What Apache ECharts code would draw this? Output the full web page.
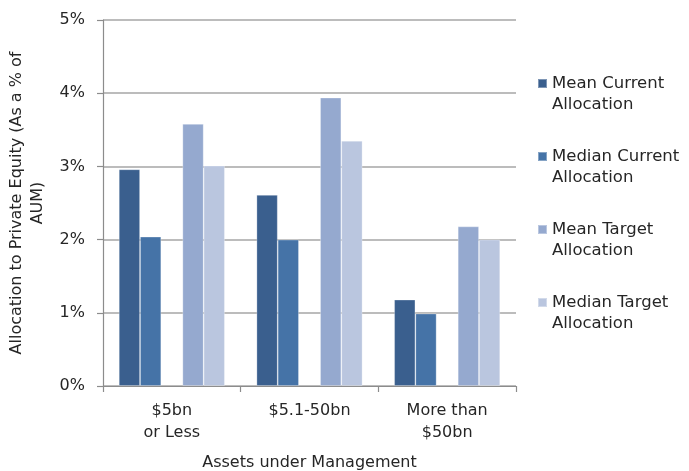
<!DOCTYPE html>
<html>
<head>
<meta charset="utf-8">
<script src="https://cdn.jsdelivr.net/npm/echarts@6/dist/echarts.min.js"></script>
<style>
html,body{margin:0;padding:0;background:#fff;}
#chart{width:689px;height:471px;}
</style>
</head>
<body>
<div id="chart"></div>
<script>
var categories = ['$5bn\nor Less', '$5.1-50bn', 'More than\n$50bn'];
var seriesNames = ['Mean Current\nAllocation', 'Median Current\nAllocation', 'Mean Target\nAllocation', 'Median Target\nAllocation'];
var meanCurrent = [2.96, 2.61, 1.18];
var medianCurrent = [2.04, 2.00, 0.99];
var meanTarget = [3.58, 3.94, 2.18];
var medianTarget = [3.01, 3.35, 2.00];
var yTicks = [0, 1, 2, 3, 4, 5];
var colors = ['#3A5F8E', '#4573A7', '#95A9CF', '#BAC6DF'];

var FONT = 'DejaVu Sans';
var chart = echarts.init(document.getElementById('chart'), null, {renderer: 'canvas'});

function barSeries(name, data, color) {
  return {
    name: name,
    type: 'bar',
    data: data,
    barGap: 0,
    barCategoryGap: '23%',
    itemStyle: {color: color, borderColor: 'rgba(255,255,255,0.35)', borderWidth: 0.8},
    emphasis: {disabled: true}
  };
}

var option = {
  animation: false,
  backgroundColor: '#ffffff',
  textStyle: {fontFamily: FONT},
  grid: {left: 103, right: 173, top: 20, bottom: 85, containLabel: false, outerBoundsMode: 'none'},
  legend: {
    orient: 'vertical',
    left: 537,
    top: 52,
    padding: 0,
    itemWidth: 9,
    itemHeight: 9,
    itemGap: 10,
    icon: 'rect',
    data: seriesNames,
    formatter: function (name) { return ' \n' + name; },
    textStyle: {fontFamily: FONT, fontSize: 16.5, color: '#262626', lineHeight: 21}
  },
  xAxis: {
    type: 'category',
    data: categories,
    name: 'Assets under Management',
    nameLocation: 'middle',
    nameGap: 69,
    nameTextStyle: {fontFamily: FONT, fontSize: 16, color: '#262626'},
    axisLine: {lineStyle: {color: '#8C8C8C', width: 1.2}},
    axisTick: {show: true, length: 6, lineStyle: {color: '#8C8C8C', width: 1.2}},
    axisLabel: {fontFamily: FONT, fontSize: 16, color: '#262626', lineHeight: 22, margin: 14}
  },
  yAxis: {
    type: 'value',
    min: yTicks[0],
    max: yTicks[yTicks.length - 1],
    interval: 1,
    name: 'Allocation to Private Equity (As a % of\nAUM)',
    nameLocation: 'middle',
    nameRotate: 90,
    nameGap: 53,
    nameTextStyle: {fontFamily: FONT, fontSize: 16, color: '#262626', lineHeight: 21},
    axisLine: {show: true, lineStyle: {color: '#8C8C8C', width: 1.2}},
    axisTick: {show: true, length: 6, lineStyle: {color: '#8C8C8C', width: 1.2}},
    axisLabel: {fontFamily: FONT, fontSize: 16, color: '#262626', margin: 18, formatter: '{value}%'},
    splitLine: {lineStyle: {color: '#A6A6A6', width: 1.5}}
  },
  series: [
    barSeries(seriesNames[0], meanCurrent, colors[0]),
    barSeries(seriesNames[1], medianCurrent, colors[1]),
    {name: 'spacer', type: 'bar', data: ['-', '-', '-'], barGap: 0, barCategoryGap: '23%', silent: true},
    barSeries(seriesNames[2], meanTarget, colors[2]),
    barSeries(seriesNames[3], medianTarget, colors[3])
  ]
};
chart.setOption(option);
</script>
</body>
</html>
